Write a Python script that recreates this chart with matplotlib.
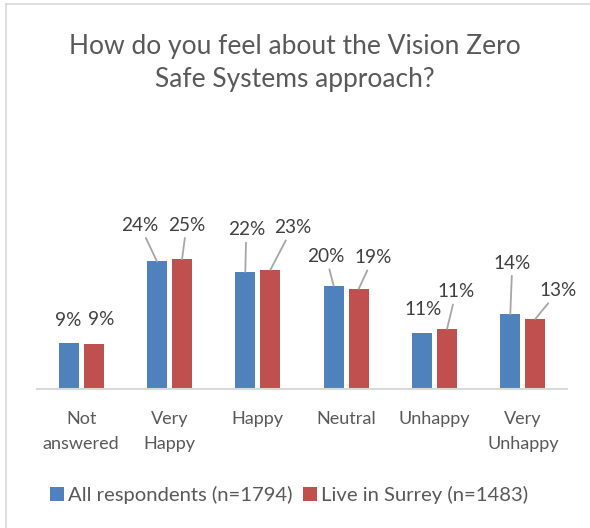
import matplotlib
matplotlib.use("Agg")
import matplotlib.pyplot as plt
import numpy as np

categories = ["Not\nanswered", "Very\nHappy", "Happy", "Neutral", "Unhappy", "Very\nUnhappy"]
all_resp = [8.7, 24.2, 22.2, 19.6, 10.6, 14.2]
surrey = [8.6, 24.6, 22.6, 19.0, 11.4, 13.3]
series_names = ["All respondents (n=1794)", "Live in Surrey (n=1483)"]
title = "How do you feel about the Vision Zero\nSafe Systems approach?"

# label offsets from bar top (pixels, dx, dy) and whether a leader line is drawn
blue_offsets = [(-0.5, 23), (-17, 36), (1, 42), (-7.5, 29), (1, 24), (2, 51)]
red_offsets = [(7, 24), (4.5, 34), (22, 42), (14.5, 31), (9, 37), (23, 28)]
blue_leader = [False, True, True, True, False, True]
red_leader = [False, True, True, True, True, True]

BLUE = "#4f81bd"
RED = "#c0504d"
TXT = "#595959"
plt.rcParams["font.family"] = ["Lato", "DejaVu Sans"]

fig = plt.figure(figsize=(5.9, 5.28), dpi=100)
ax = fig.add_axes([37 / 590, (528 - 389) / 528, 530 / 590, 184.5 / 528])

x = np.arange(len(categories))
w = 0.226
off = 0.142
ax.bar(x - off, all_resp, w, color=BLUE, label=series_names[0])
ax.bar(x + off, surrey, w, color=RED, label=series_names[1])

ax.set_xlim(-0.5, len(categories) - 0.5)
ax.set_ylim(0, 35)
for s in ["top", "right", "left"]:
    ax.spines[s].set_visible(False)
ax.spines["bottom"].set_color("#d9d9d9")
ax.spines["bottom"].set_linewidth(1.5)
ax.set_yticks([])
ax.set_xticks(x)
ax.set_xticklabels(categories, fontsize=13, color=TXT, linespacing=1.65)
ax.tick_params(axis="x", length=0, pad=16)

px = 0.72  # points per pixel at 100 dpi


def label_bars(xs, vals, offsets, leaders):
    for xi, v, (dx, dy), lead in zip(xs, vals, offsets, leaders):
        ap = None
        if lead:
            ap = dict(arrowstyle="-", color="#a6a6a6", lw=1.3, shrinkA=1, shrinkB=0)
        ax.annotate(f"{round(v)}%", xy=(xi, v), xytext=(dx * px, dy * px),
                    textcoords="offset points", ha="center", va="center",
                    fontsize=13.7, color="#404040", arrowprops=ap)


label_bars(x - off, all_resp, blue_offsets, blue_leader)
label_bars(x + off, surrey, red_offsets, red_leader)

fig.text(0.5, 1 - 63 / 528, title, ha="center", va="center", fontsize=19,
         color=TXT, linespacing=1.4)

fig.legend(loc="center", bbox_to_anchor=(0.49, 1 - 495 / 528), ncol=2, frameon=False,
           fontsize=14.6, handlelength=0.7, handleheight=0.7, handletextpad=0.2,
           columnspacing=0.5, labelcolor=TXT)

# chart border (top and left visible)
fig.add_artist(plt.Line2D([6 / 590, 1], [1 - 4 / 528] * 2, color="#d9d9d9", lw=1.2))
fig.add_artist(plt.Line2D([6 / 590] * 2, [0, 1 - 4 / 528], color="#d9d9d9", lw=1.2))

fig.savefig("out.png", dpi=100)
